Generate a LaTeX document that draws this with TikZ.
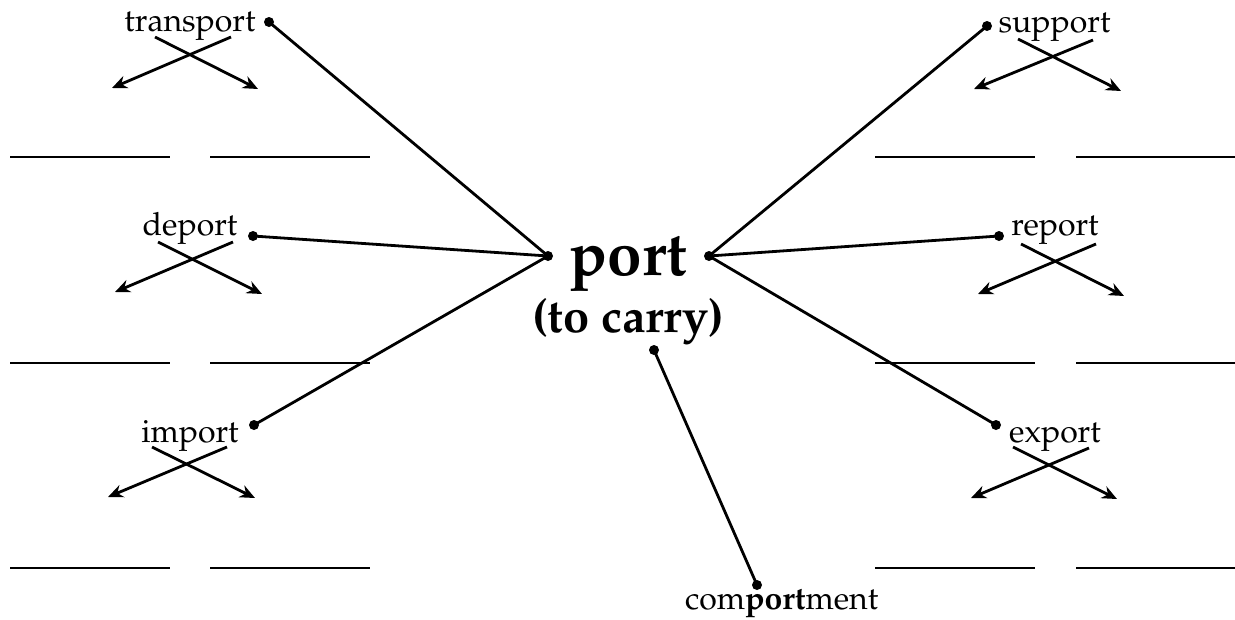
\documentclass[tikz,border=0pt]{standalone}
\usepackage[T1]{fontenc}
\usepackage{mathpazo}
\usetikzlibrary{arrows.meta}
\begin{document}
\begin{tikzpicture}[x=1pt,y=-1pt,
  word/.style={font=\fontsize{32}{38}\selectfont, inner sep=0pt, anchor=base},
  dotc/.style={circle, fill=black, inner sep=0pt, minimum size=10pt},
  link/.style={line width=2.8pt},
  splitarrow/.style={line width=2.8pt, -{Stealth[length=15pt,width=13pt]}},
  blank/.style={line width=2.6pt}]
\useasboundingbox (0,0) rectangle (1235,619);

% centre
\node[font=\fontsize{62}{70}\bfseries\selectfont, inner sep=0pt, anchor=base] (port) at (628.5,275) {port};
\node[font=\fontsize{47}{54}\bfseries\selectfont, inner sep=0pt, anchor=base] (carry) at (628,332) {(to carry)};
\node[dotc] (pl) at (548,256) {};
\node[dotc] (pr) at (709,256) {};
\node[dotc] (pb) at (654,350) {};

% words
\node[word] (transport) at (190,31) {transport};
\node[word] (deport) at (190,235) {deport};
\node[word] (import) at (190,442) {import};
\node[word] (support) at (1054.5,32) {support};
\node[word] (report) at (1055,235) {report};
\node[word] (export) at (1055,442) {export};
\node[word, anchor=base west] (comportment) at (685,609) {com\textbf{port}ment};

% word dots
\node[dotc] (dtransport) at (269,22) {};
\node[dotc] (ddeport) at (253,236) {};
\node[dotc] (dimport) at (254,425) {};
\node[dotc] (dsupport) at (987,26) {};
\node[dotc] (dreport) at (999,236) {};
\node[dotc] (dexport) at (996,425) {};
\node[dotc] (dcomp) at (757,585) {};

% links
\draw[link] (pl.center) -- (dtransport.center);
\draw[link] (pl.center) -- (ddeport.center);
\draw[link] (pl.center) -- (dimport.center);
\draw[link] (pr.center) -- (dsupport.center);
\draw[link] (pr.center) -- (dreport.center);
\draw[link] (pr.center) -- (dexport.center);
\draw[link] (pb.center) -- (dcomp.center);

% split arrows
\coordinate (ta1) at (231,37);  \coordinate (ta2) at (112,88);
\coordinate (tb1) at (155,37);  \coordinate (tb2) at (258,89);
\coordinate (da1) at (233,242); \coordinate (da2) at (115,292);
\coordinate (db1) at (158,242); \coordinate (db2) at (262,294);
\coordinate (ia1) at (227,447); \coordinate (ia2) at (108,497);
\coordinate (ib1) at (152,447); \coordinate (ib2) at (255,498);
\coordinate (sa1) at (1093,40); \coordinate (sa2) at (974,89);
\coordinate (sb1) at (1018,39); \coordinate (sb2) at (1121,91);
\coordinate (ra1) at (1096,244); \coordinate (ra2) at (978,294);
\coordinate (rb1) at (1021,244); \coordinate (rb2) at (1124,296);
\coordinate (ea1) at (1089,448); \coordinate (ea2) at (971,498);
\coordinate (eb1) at (1013,447); \coordinate (eb2) at (1117,499);
\foreach \p in {t,d,i,s,r,e}{
  \draw[splitarrow] (\p a1) -- (\p a2);
  \draw[splitarrow] (\p b1) -- (\p b2);
}

% blanks
\foreach \y in {157,363,568}{
  \draw[blank] (10,\y) coordinate (bl1) -- (170,\y) coordinate (bl2);
  \draw[blank] (210,\y) coordinate (bl3) -- (370,\y) coordinate (bl4);
  \draw[blank] (875,\y) coordinate (br1) -- (1035,\y) coordinate (br2);
  \draw[blank] (1076,\y) coordinate (br3) -- (1235,\y) coordinate (br4);
}
\end{tikzpicture}
\end{document}
